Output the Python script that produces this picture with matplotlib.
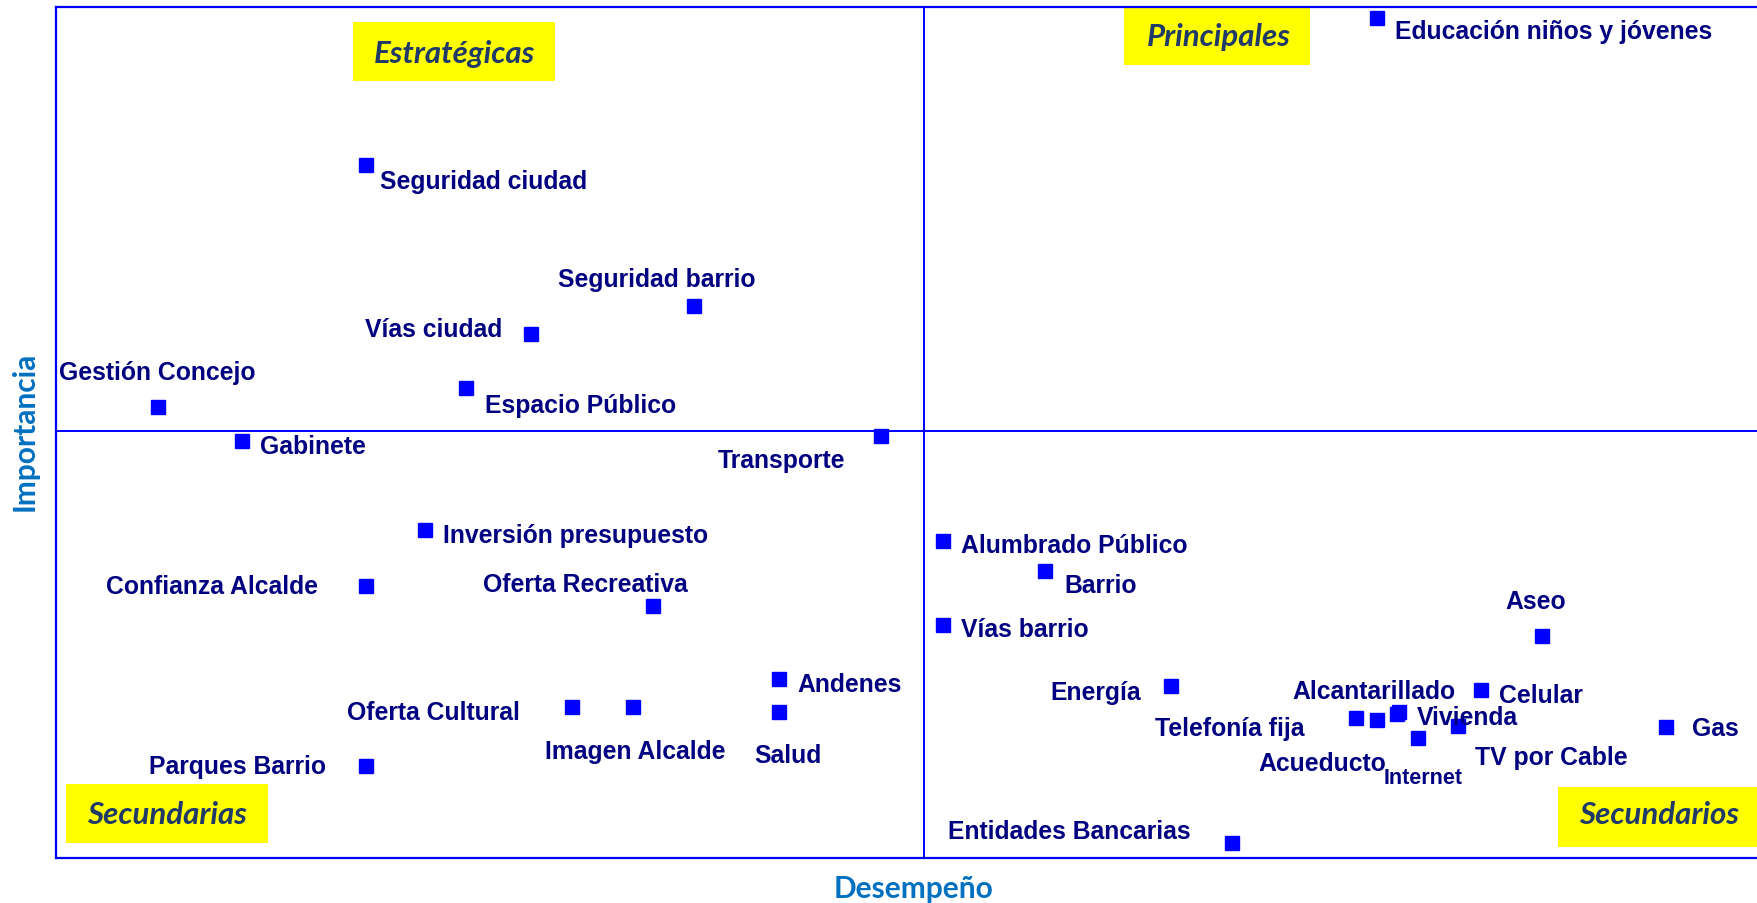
import matplotlib.pyplot as plt
from matplotlib.patches import Rectangle

# variables evaluadas
items = ["Educación niños y jóvenes", "Seguridad ciudad", "Seguridad barrio", "Vías ciudad",
         "Gestión Concejo", "Espacio Público", "Gabinete", "Transporte",
         "Inversión presupuesto", "Confianza Alcalde", "Oferta Recreativa", "Oferta Cultural",
         "Imagen Alcalde", "Andenes", "Salud", "Parques Barrio",
         "Alumbrado Público", "Barrio", "Vías barrio", "Energía",
         "Aseo", "Celular", "Telefonía fija", "Acueducto",
         "Alcantarillado", "Vivienda", "Internet", "TV por Cable",
         "Gas", "Entidades Bancarias"]
desempeno = [77.6, 18.2, 37.5, 27.9,
             6.0, 24.1, 10.9, 48.5,
             21.7, 18.2, 35.1, 30.3,
             33.9, 42.5, 42.5, 18.2,
             52.1, 58.1, 52.1, 65.5,
             87.3, 83.7, 76.4, 77.6,
             78.8, 78.9, 80.0, 82.4,
             94.6, 69.1]
importancia = [98.7, 81.4, 64.9, 61.6,
               53.0, 55.2, 49.0, 49.6,
               38.5, 32.0, 29.6, 17.7,
               17.7, 21.0, 17.2, 10.8,
               37.3, 33.7, 27.4, 20.2,
               26.1, 19.7, 16.5, 16.2,
               16.9, 17.1, 14.1, 15.5,
               15.4, 1.8]
prom_desempeno = 51.0
prom_importancia = 50.2

# label placement (pixel offset from marker, alignment)
offsets = [(18, -10, "left"), (14, -13, "left"), (-38, 29, "center"), (-29, 7, "right"),
           (-1, 37, "center"), (19, -14, "left"), (18, -2, "left"), (-36, -22, "right"),
           (18, -2, "left"), (-48, 2, "right"), (-68, 25, "center"), (-52, -2, "right"),
           (2, -41, "center"), (18, -2, "left"), (9, -41, "center"), (-40, 3, "right"),
           (18, -2, "left"), (20, -11, "left"), (18, -2, "left"), (-30, -3, "right"),
           (-6, 37, "center"), (18, -2, "left"), (-52, -8, "right"), (9, -40, "right"),
           (58, 26, "right"), (18, -2, "left"), (6, -37, "center"), (17, -28, "left"),
           (26, 1, "left"), (-41, 14, "right")]

cuadrantes = ["Estratégicas", "Principales", "Secundarias", "Secundarios"]
cajas = [(17.45, 91.3, 11.87, 6.9), (62.75, 93.2, 10.93, 6.9),
         (0.59, 1.76, 11.87, 6.9), (88.25, 1.3, 11.75, 7.0)]
centros = [(23.4, 94.6), (68.3, 96.6), (6.5, 5.2), (94.2, 5.2)]

fig = plt.figure(figsize=(17.58, 9.04), dpi=100)
ax = fig.add_axes([56 / 1758, 45 / 904, 1 - 56 / 1758, 851 / 904])
ax.set_xlim(0, 100)
ax.set_ylim(0, 100)
ax.set_xticks([])
ax.set_yticks([])
for s in ["left", "top", "bottom"]:
    ax.spines[s].set_color("#0000FF")
    ax.spines[s].set_linewidth(1.6)
ax.spines["right"].set_visible(False)

ax.axvline(prom_desempeno, color="#0000FF", lw=1.4)
ax.axhline(prom_importancia, color="#0000FF", lw=1.4)

for (x, y, w, h), (cx, cy), t in zip(cajas, centros, cuadrantes):
    ax.add_patch(Rectangle((x, y), w, h, facecolor="#FFFF00", edgecolor="none", zorder=1))
    ax.text(cx, cy, t, ha="center", va="center", fontsize=22.5, style="italic",
            fontweight="bold", family="Lato", color="#1F3A68", zorder=2)

ax.plot(desempeno, importancia, "s", color="#0000FF", markersize=10, zorder=3)

for name, x, y, (dx, dy, ha) in zip(items, desempeno, importancia, offsets):
    fs = 15.5 if name == "Internet" else 17.8
    ax.annotate(name, (x, y), xytext=(dx, dy), textcoords="offset pixels",
                ha=ha, va="center_baseline", fontsize=fs, fontweight="bold",
                family="Liberation Sans", color="#000080", zorder=4)

ax.set_xlabel("Desempeño", fontsize=21.5, fontweight="bold", family="Lato",
              color="#0070C0", va="center")
ax.xaxis.set_label_coords(0.504, -0.035)
ax.set_ylabel("Importancia", fontsize=21.5, fontweight="bold", family="Lato",
              color="#0070C0", va="center")
ax.yaxis.set_label_coords(-0.0182, 0.502)

fig.savefig("out.png", dpi=100)
